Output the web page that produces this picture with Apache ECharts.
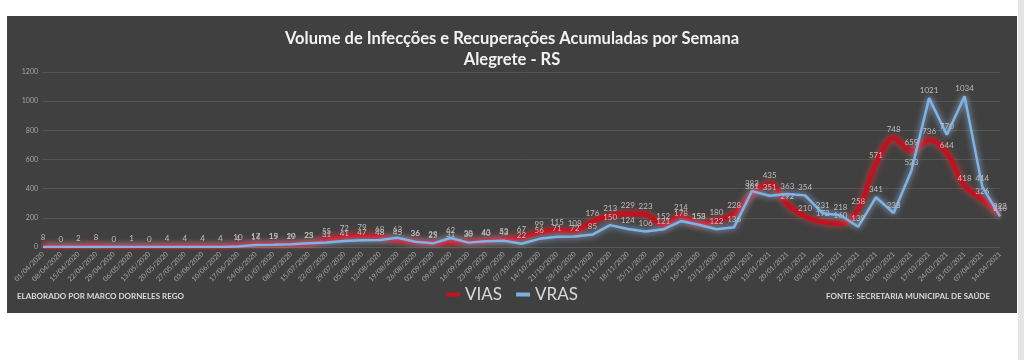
<!DOCTYPE html>
<html>
<head>
<meta charset="utf-8">
<script src="https://cdn.jsdelivr.net/npm/echarts@6/dist/echarts.min.js"></script>
<style>
html,body{margin:0;padding:0;background:#ffffff;}
#c{width:1024px;height:360px;}
</style>
</head>
<body>
<div id="c"></div>
<script>
const categories = ["01/04/2020","08/04/2020","15/04/2020","22/04/2020","29/04/2020","06/05/2020","13/05/2020","20/05/2020","27/05/2020","03/06/2020","10/06/2020","17/06/2020","24/06/2020","01/07/2020","08/07/2020","15/07/2020","22/07/2020","29/07/2020","05/08/2020","12/08/2020","19/08/2020","26/08/2020","02/09/2020","09/09/2020","16/09/2020","23/09/2020","30/09/2020","07/10/2020","14/10/2020","21/10/2020","28/10/2020","04/11/2020","11/11/2020","18/11/2020","25/11/2020","02/12/2020","09/12/2020","16/12/2020","23/12/2020","30/12/2020","06/01/2021","13/01/2021","20/01/2021","27/01/2021","03/02/2021","10/02/2021","17/02/2021","24/02/2021","03/03/2021","10/03/2021","17/03/2021","24/03/2021","31/03/2021","07/04/2021","14/04/2021"];
const vias = [8,0,2,8,0,1,0,4,4,4,4,10,17,19,20,23,55,72,79,68,45,36,29,31,38,43,53,67,99,115,108,176,213,229,223,152,214,158,180,228,361,435,292,210,172,160,258,571,748,659,736,644,418,326,222];
const vras = [0,0,0,0,0,0,0,0,0,0,0,4,14,15,19,25,31,41,47,48,63,36,25,62,30,40,43,22,56,71,72,85,150,124,106,121,178,153,122,136,383,351,363,354,231,218,139,341,233,523,1021,770,1034,414,210];
const yTicks = [0,200,400,600,800,1000,1200];
const titleLines = ["Volume de Infecções e Recuperações Acumuladas por Semana","Alegrete - RS"];
const footerLeft = "ELABORADO POR MARCO DORNELES REGO";
const footerRight = "FONTE: SECRETARIA MUNICIPAL DE SAÚDE";

const chart = echarts.init(document.getElementById('c'));
const lbl = {show:true, position:'top', distance:3, color:'#bdbdbd', fontSize:8, fontFamily:'Lato, sans-serif'};
chart.setOption({
  backgroundColor:'#ffffff',
  animation:false,
  graphic:[
    {type:'rect', z:-10, shape:{x:7,y:16,width:1010,height:297}, style:{fill:'#404040'}},
    {type:'rect', z:-10, shape:{x:1018,y:0,width:6,height:360}, style:{fill:'#e4e4e4'}},
    {type:'text', left:17, top:292, style:{text:footerLeft, fill:'#d9d9d9', font:'bold 8px "Liberation Sans Narrow", Lato, sans-serif'}},
    {type:'text', right:34, top:292, style:{text:footerRight, fill:'#d9d9d9', font:'bold 8px "Liberation Sans Narrow", Lato, sans-serif'}}
  ],
  title:{
    text: titleLines.join('\n'), left:'center', top:23,
    textStyle:{color:'#f2f2f2', fontSize:16.5, fontWeight:'bold', fontFamily:'Lato, sans-serif', lineHeight:21}
  },
  legend:{
    bottom:52, left:'center', itemWidth:14, itemHeight:4, itemGap:14,
    textStyle:{color:'#d9d9d9', fontSize:17, fontFamily:'Lato, sans-serif'},
    data:[
      {name:'VIAS', icon:'rect', itemStyle:{color:'#c3121f', opacity:1}},
      {name:'VRAS', icon:'rect', itemStyle:{color:'#78b0e6', opacity:1}}
    ]
  },
  grid:{left:43, right:24, top:72, bottom:113, containLabel:false},
  xAxis:{
    type:'category', data:categories, boundaryGap:false,
    axisLine:{show:true, lineStyle:{color:'#595959'}},
    axisTick:{show:false},
    axisLabel:{rotate:45, interval:0, fontSize:7, color:'#a6a6a6', margin:6, fontFamily:'Lato, sans-serif'}
  },
  yAxis:{
    type:'value', min:yTicks[0], max:yTicks[yTicks.length-1], interval:200,
    axisLine:{show:false}, axisTick:{show:false},
    splitLine:{lineStyle:{color:'#555555', width:1}},
    axisLabel:{fontSize:7, color:'#a6a6a6', margin:5, fontFamily:'Lato, sans-serif', formatter:v => String(v)}
  },
  series:[
    {name:'VIAS', type:'line', data:vias, smooth:0.35, showSymbol:true, symbol:'circle', symbolSize:2,
     color:'#c3121f',
     lineStyle:{width:5, color:'#c3121f', shadowColor:'rgba(255,70,70,0.6)', shadowBlur:7},
     itemStyle:{color:'rgba(0,0,0,0)', borderWidth:0}, label:lbl, z:2},
    {name:'VRAS', type:'line', data:vras, smooth:false, showSymbol:true, symbol:'circle', symbolSize:2,
     color:'#78b0e6',
     lineStyle:{width:2.5, color:'#7db4e8', shadowColor:'rgba(170,210,255,0.9)', shadowBlur:6},
     itemStyle:{color:'rgba(0,0,0,0)', borderWidth:0},
     label:Object.assign({}, lbl, {formatter:p => p.value === 0 ? '' : String(p.value)}), z:3}
  ]
});
</script>
</body>
</html>
